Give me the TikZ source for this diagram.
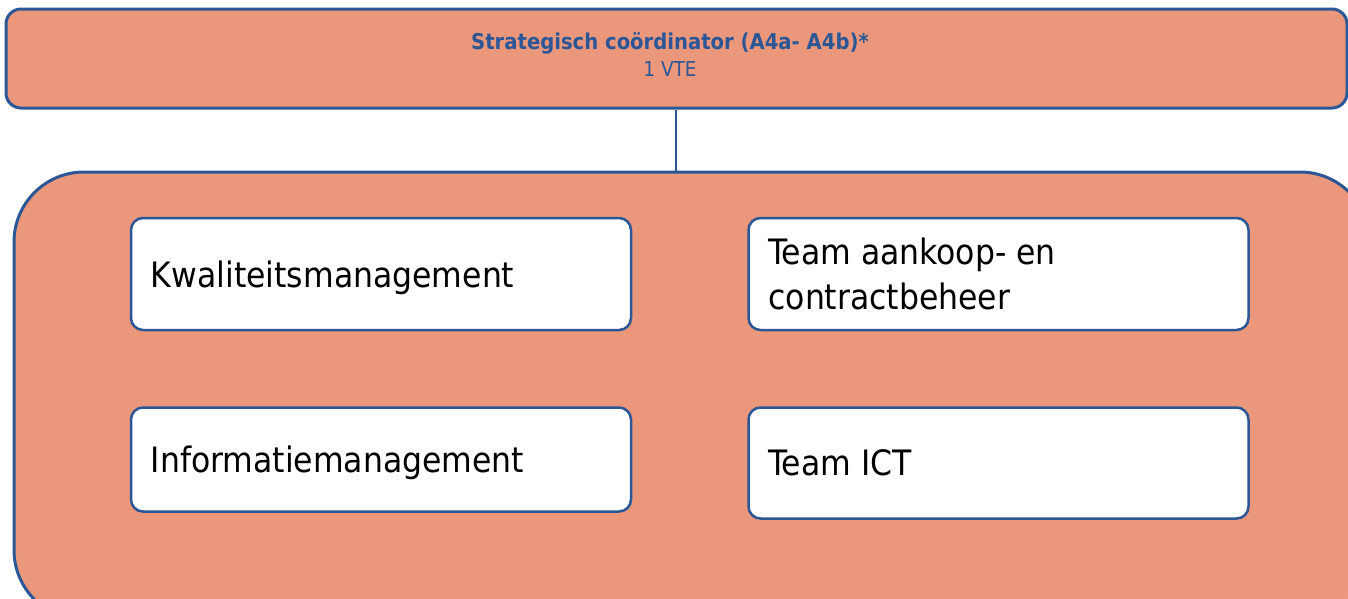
\documentclass[tikz,border=0pt]{standalone}
\usepackage{fontspec}
\setmainfont{DejaVu Sans Condensed}
\usetikzlibrary{calc}
\definecolor{salmon}{HTML}{EB977B}
\definecolor{edgeblue}{HTML}{2B5797}
\tikzset{
  panel/.style={draw=edgeblue, fill=salmon, line width=3pt, rounded corners=#1, inner sep=0pt},
  unit/.style={draw=edgeblue, fill=white, line width=2.5pt, rounded corners=12pt, inner sep=0pt, minimum width=500pt},
  lbl/.style={inner sep=0pt, anchor=base west, font=\fontsize{35}{45}\selectfont, align=left, text=black},
  link/.style={draw=edgeblue, line width=1.5pt},
}
\begin{document}
\begin{tikzpicture}[x=1pt,y=-1pt]
\useasboundingbox (0,0) rectangle (1348,598);
\node[panel=15pt, minimum width=1341pt, minimum height=99pt] (top) at (676.5,58.5) {};
\node[inner sep=0pt, anchor=base, text=edgeblue, font=\fontsize{21.8}{21.8}\selectfont\bfseries] (title) at (670,49) {Strategisch coördinator (A4a- A4b)*};
\node[inner sep=0pt, anchor=base, text=edgeblue, font=\fontsize{20.5}{20.5}\selectfont] (fte) at (670,76) {1 VTE};
\node[panel=70pt, minimum width=1356pt, minimum height=448pt] (big) at (692,396) {};
\draw[link] (top.south -| 676,0) -- (676,0 |- big.north);
\node[unit, minimum height=112pt] (kwal) at (381,274) {};
\node[unit, minimum height=112pt] (aank) at (998.5,274) {};
\node[unit, minimum height=104pt] (info) at (381,459.5) {};
\node[unit, minimum height=111pt] (ict) at (998.5,463) {};
\node[lbl] (kwalt) at ($(kwal.west)+(21,13)$) {Kwaliteitsmanagement};
\node[lbl] (aankt) at ($(aank.west)+(21,35)$) {Team aankoop- en\\contractbeheer};
\node[lbl] (infot) at ($(info.west)+(21,12.5)$) {Informatiemanagement};
\node[lbl] (ictt) at ($(ict.west)+(21,12)$) {Team ICT};
\end{tikzpicture}
\end{document}
